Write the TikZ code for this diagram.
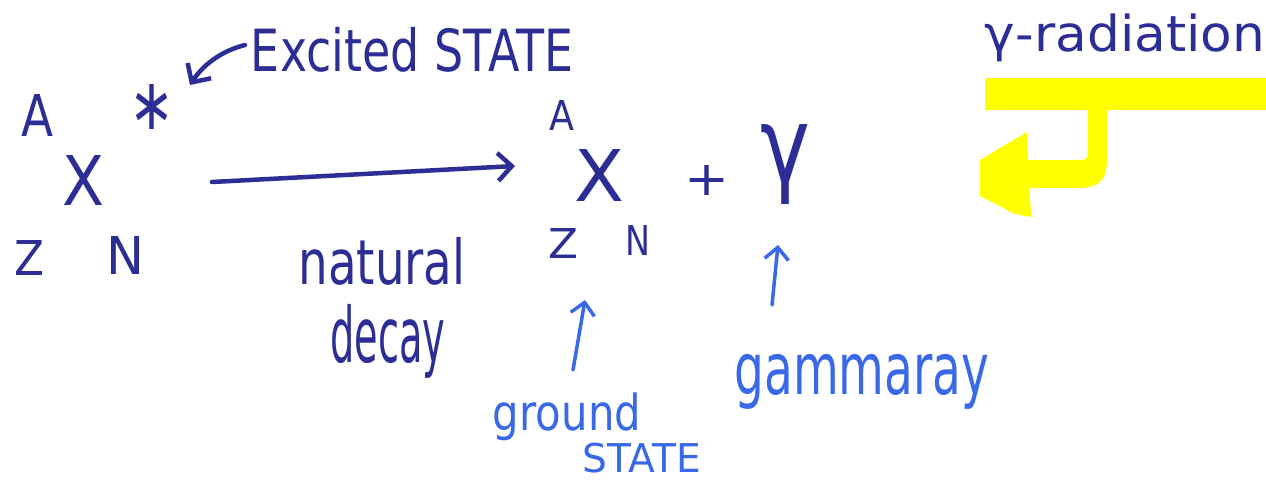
\documentclass[tikz,border=0pt]{standalone}
\usepackage{fontspec}
\setmainfont{DejaVu Sans}
\usetikzlibrary{arrows.meta}
\definecolor{ink}{RGB}{44,46,150}
\definecolor{lightink}{RGB}{58,105,232}
\definecolor{hl}{RGB}{255,255,0}
\tikzset{
  lbl/.style={inner sep=0pt, text=ink},
  lbllight/.style={inner sep=0pt, text=lightink},
  pen/.style={draw=ink, line width=4.5pt, line cap=round, -{Straight Barb[length=14pt,width=28pt,line width=4.5pt]}},
  penlight/.style={draw=lightink, line width=3.5pt, line cap=round, -{Straight Barb[length=12pt,width=24pt,line width=3.5pt]}},
}
\newcommand{\fitwh}[3]{\resizebox*{#1pt}{#2pt}{#3}}
\begin{document}
\begin{tikzpicture}[x=1pt,y=-1pt]
\useasboundingbox (0,0) rectangle (1266,482);
% left nucleus
\node[lbl] (lA) at (38,115) {\fitwh{32}{42}{A}};
\node[lbl] (lstar) at (152,107) {\fitwh{45}{45}{\textasteriskcentered}};
\node[lbl] (lX) at (84,180) {\fitwh{42}{50}{X}};
\node[lbl] (lZ) at (30,258) {\fitwh{30}{35}{Z}};
\node[lbl] (lN) at (125,255) {\fitwh{38}{38}{N}};
% excited state
\node[lbl] (exc) at (412,50) {\fitwh{322}{45}{Excited STATE}};
\coordinate (excS) at (245,45);
\coordinate (excE) at (190,85);
\draw[pen] (excS) .. controls (225,50) and (205,62) .. (excE);
% main arrow
\coordinate (mS) at (212,182);
\coordinate (mE) at (515,166);
\draw[pen] (mS) -- (mE);
\node[lbl] (nat) at (382,261) {\fitwh{167}{48}{natural}};
\node[lbl] (dec) at (388,341) {\fitwh{115}{74}{decay}};
% right nucleus
\node[lbl] (rA) at (562,115) {\fitwh{25}{30}{A}};
\node[lbl] (rX) at (600,175) {\fitwh{50}{52}{X}};
\node[lbl] (rZ) at (563,243) {\fitwh{30}{30}{Z}};
\node[lbl] (rN) at (638,240) {\fitwh{25}{30}{N}};
\node[lbl] (plus) at (707,180) {\fitwh{45}{30}{+}};
\node[lbl] (gam) at (785,165) {\fitwh{50}{80}{γ}};
% ground state
\node[lbllight] (gr) at (567,417) {\fitwh{148}{48}{ground}};
\node[lbllight] (st) at (642,458) {\fitwh{118}{30}{STATE}};
\coordinate (gA) at (573,370);
\coordinate (gB) at (585,300);
\draw[penlight] (gA) -- (gB);
% gamma ray
\node[lbllight] (gray) at (862,382) {\fitwh{255}{55}{gammaray}};
\coordinate (yA) at (772,305);
\coordinate (yB) at (778,245);
\draw[penlight] (yA) -- (yB);
% gamma radiation
\node[lbl] (grad) at (1125,38) {\fitwh{280}{48}{γ-radiation}};
\fill[hl] (985,78) rectangle (1266,110);
\fill[hl] (1088,108) -- (1107,108) -- (1107,158) .. controls (1107,185) and (1095,188) .. (1075,188) -- (1024,188) -- (1024,160) -- (1075,160) .. controls (1088,160) .. (1088,145) -- cycle;
\fill[hl] (980,160) -- (1027,132) -- (1031,217) -- (1015,214) -- (980,196) -- cycle;
\end{tikzpicture}
\end{document}
